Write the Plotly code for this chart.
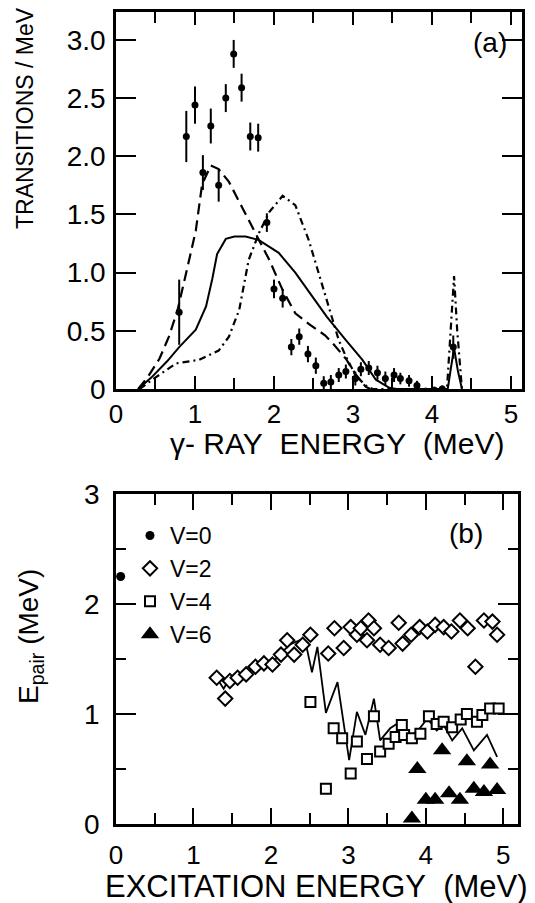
import plotly.graph_objects as go

# ---------------- Panel (a) data ----------------
gamma_e = [0.80, 0.89, 1.00, 1.10, 1.20, 1.30, 1.39, 1.49, 1.59, 1.70, 1.80, 1.91, 2.00, 2.11, 2.22, 2.32,
           2.43, 2.53, 2.63, 2.72, 2.82, 2.91, 3.03, 3.10, 3.20, 3.31, 3.41, 3.52, 3.60, 3.71, 3.81, 3.92,
           4.03, 4.13, 4.27]
transitions = [0.66, 2.17, 2.44, 1.86, 2.26, 1.75, 2.50, 2.88, 2.59, 2.17, 2.16, 1.43, 0.86, 0.78, 0.36, 0.45,
               0.30, 0.20, 0.05, 0.06, 0.12, 0.15, 0.09, 0.17, 0.18, 0.14, 0.09, 0.12, 0.09, 0.07, 0.03, -0.02,
               -0.01, 0.00, 0.36]
trans_err = [0.28, 0.22, 0.16, 0.15, 0.15, 0.14, 0.12, 0.12, 0.12, 0.12, 0.12, 0.08, 0.08, 0.08, 0.07, 0.07,
             0.07, 0.07, 0.06, 0.06, 0.06, 0.06, 0.06, 0.06, 0.06, 0.06, 0.06, 0.06, 0.05, 0.05, 0.04, 0.03,
             0.03, 0.03, 0.10]

solid_x = [0.28, 0.45, 0.65, 0.80, 1.01, 1.14, 1.22, 1.28, 1.39, 1.50, 1.64, 1.81, 2.06, 2.27, 2.48, 2.67,
           2.91, 3.12, 3.29, 3.46, 3.55, 4.20, 4.24, 4.28, 4.33, 4.38]
solid_y = [0.00, 0.10, 0.24, 0.36, 0.51, 0.71, 0.95, 1.16, 1.29, 1.31, 1.31, 1.28, 1.17, 1.00, 0.80, 0.62,
           0.42, 0.25, 0.08, 0.01, 0.00, 0.00, 0.18, 0.35, 0.15, 0.00]

dash_x = [0.28, 0.40, 0.55, 0.67, 0.78, 0.88, 0.95, 1.01, 1.09, 1.20, 1.30, 1.43, 1.60, 1.77, 1.94, 2.11,
          2.27, 2.44, 2.65, 2.76, 2.91, 3.03, 3.16, 3.22]
dash_y = [0.00, 0.10, 0.26, 0.45, 0.68, 0.96, 1.18, 1.36, 1.76, 1.92, 1.89, 1.78, 1.56, 1.34, 1.11, 0.85,
          0.65, 0.56, 0.46, 0.38, 0.26, 0.13, 0.02, 0.00]

dashdot_x = [0.30, 0.46, 0.76, 1.05, 1.30, 1.43, 1.56, 1.68, 1.81, 1.94, 2.11, 2.27, 2.44, 2.59, 2.70, 2.82,
             2.91, 3.03, 3.16, 3.25, 4.19, 4.24, 4.28, 4.32, 4.38]
dashdot_y = [0.00, 0.08, 0.22, 0.25, 0.33, 0.45, 0.68, 1.11, 1.34, 1.52, 1.66, 1.58, 1.28, 0.94, 0.71, 0.42,
             0.28, 0.12, 0.03, 0.00, 0.00, 0.50, 0.97, 0.50, 0.00]

top_yticks = [0, 0.5, 1.0, 1.5, 2.0, 2.5, 3.0]
top_yticklabels = ["0", "0.5", "1.0", "1.5", "2.0", "2.5", "3.0"]
xticks = [0, 1, 2, 3, 4, 5]
xticklabels = ["0", "1", "2", "3", "4", "5"]

# ---------------- Panel (b) data ----------------
v0_x = [0.06]
v0_y = [2.25]

v2_x = [1.30, 1.41, 1.47, 1.57, 1.68, 1.80, 1.91, 2.02, 2.13, 2.21, 2.30, 2.41, 2.51, 2.74, 2.82, 2.94,
        3.03, 3.11, 3.16, 3.24, 3.26, 3.33, 3.41, 3.52, 3.65, 3.70, 3.81, 3.92, 4.02, 4.12, 4.23, 4.33,
        4.44, 4.54, 4.64, 4.75, 4.86, 4.92]
v2_y = [1.33, 1.14, 1.30, 1.33, 1.36, 1.43, 1.46, 1.45, 1.54, 1.67, 1.54, 1.63, 1.72, 1.55, 1.78, 1.60,
        1.79, 1.72, 1.78, 1.67, 1.85, 1.78, 1.63, 1.60, 1.83, 1.64, 1.72, 1.79, 1.75, 1.81, 1.79, 1.75,
        1.85, 1.78, 1.43, 1.85, 1.84, 1.72]

v4_x = [2.51, 2.71, 2.81, 2.92, 3.03, 3.11, 3.24, 3.33, 3.41, 3.52, 3.61, 3.69, 3.72, 3.82, 3.93, 4.04,
        4.14, 4.23, 4.34, 4.45, 4.53, 4.66, 4.73, 4.83, 4.94]
v4_y = [1.11, 0.32, 0.87, 0.78, 0.46, 0.75, 0.59, 0.98, 0.66, 0.73, 0.79, 0.90, 0.81, 0.78, 0.82, 0.98,
        0.91, 0.93, 0.88, 0.95, 1.00, 0.93, 0.99, 1.05, 1.05]

v6_x = [3.82, 3.89, 4.00, 4.12, 4.21, 4.30, 4.44, 4.53, 4.62, 4.75, 4.83, 4.92]
v6_y = [0.05, 0.50, 0.22, 0.22, 0.67, 0.28, 0.22, 0.57, 0.32, 0.29, 0.54, 0.31]

avg_x = [1.28, 1.39, 1.46, 1.55, 1.65, 1.78, 1.90, 2.02, 2.13, 2.24, 2.37, 2.46, 2.53, 2.60, 2.71, 2.86,
         3.01, 3.11, 3.22, 3.33, 3.41, 3.54, 3.67, 3.76, 3.89, 4.02, 4.14, 4.23, 4.34, 4.47, 4.62, 4.79, 4.92]
avg_y = [1.35, 1.23, 1.32, 1.30, 1.36, 1.42, 1.46, 1.47, 1.55, 1.63, 1.67, 1.61, 1.38, 1.61, 1.01, 1.29,
         0.58, 1.02, 0.81, 1.14, 0.76, 0.87, 0.93, 0.79, 0.84, 0.96, 0.85, 0.90, 0.76, 0.87, 0.67, 0.81, 0.61]

bot_yticks = [0, 1, 2, 3]
bot_yticklabels = ["0", "1", "2", "3"]

FONT = "Liberation Sans, Arial, Helvetica, sans-serif"

fig = go.Figure()

# Panel (a)
fig.add_trace(go.Scatter(x=solid_x, y=solid_y, mode="lines", line=dict(color="black", width=2),
                         xaxis="x", yaxis="y", showlegend=False))
fig.add_trace(go.Scatter(x=dash_x, y=dash_y, mode="lines",
                         line=dict(color="black", width=2.2, dash="11px,6px"),
                         xaxis="x", yaxis="y", showlegend=False))
fig.add_trace(go.Scatter(x=dashdot_x, y=dashdot_y, mode="lines",
                         line=dict(color="black", width=2.2, dash="7px,4px,2px,4px"),
                         xaxis="x", yaxis="y", showlegend=False))
fig.add_trace(go.Scatter(x=gamma_e, y=transitions, mode="markers",
                         marker=dict(color="black", size=7, symbol="circle"),
                         error_y=dict(type="data", array=trans_err, color="black", thickness=2, width=0),
                         xaxis="x", yaxis="y", showlegend=False))

# Panel (b)
fig.add_trace(go.Scatter(x=avg_x, y=avg_y, mode="lines", line=dict(color="black", width=1.8),
                         xaxis="x2", yaxis="y2", showlegend=False))
fig.add_trace(go.Scatter(x=v0_x, y=v0_y, mode="markers", name="V=0",
                         marker=dict(color="black", size=9, symbol="circle"),
                         xaxis="x2", yaxis="y2"))
fig.add_trace(go.Scatter(x=v2_x, y=v2_y, mode="markers", name="V=2",
                         marker=dict(color="white", size=11, symbol="diamond",
                                     line=dict(color="black", width=2)),
                         xaxis="x2", yaxis="y2"))
fig.add_trace(go.Scatter(x=v4_x, y=v4_y, mode="markers", name="V=4",
                         marker=dict(color="white", size=10, symbol="square",
                                     line=dict(color="black", width=2)),
                         xaxis="x2", yaxis="y2"))
fig.add_trace(go.Scatter(x=v6_x, y=v6_y, mode="markers", name="V=6",
                         marker=dict(color="black", size=16, symbol="triangle-up"),
                         xaxis="x2", yaxis="y2"))

axis_common = dict(showline=True, linecolor="black", linewidth=2.5, mirror="allticks",
                   ticks="inside", tickcolor="black", tickwidth=2, showgrid=False, zeroline=False,
                   automargin=False)
tick_font = dict(family=FONT, size=28, color="black")

# the page body adds an 8px offset; margins below are set so that the plot
# frames land on the reference's screen positions
OFF = 8
W, H = 535, 903
L, T = 116 - OFF, 12 - OFF
R, B = W - (522 - OFF), H - (824 - OFF)
PW, PH = W - L - R, H - T - B


def px(xs):
    return (xs - OFF - L) / PW


def py(ys):
    return (H - B - (ys - OFF)) / PH


fig.update_layout(
    width=W, height=H, margin=dict(l=L, r=R, t=T, b=B, autoexpand=False),
    paper_bgcolor="white", plot_bgcolor="white",
    font=dict(family=FONT, color="black"),
    xaxis=dict(domain=[0, 1], range=[0, 5.14], anchor="y", tickmode="array", tickvals=xticks,
               ticktext=xticklabels, ticklen=13, ticklabelstandoff=0,
               tickfont=dict(family=FONT, size=26, color="black"),
               minor=dict(dtick=0.5, tick0=0, ticklen=11, tickwidth=2, ticks="inside", tickcolor="black"),
               **axis_common),
    yaxis=dict(domain=[py(389), 1], range=[0, 3.24], anchor="x", tickmode="array", tickvals=top_yticks,
               ticktext=top_yticklabels, ticklen=20, ticklabelstandoff=2, tickfont=tick_font,
               **axis_common),
    xaxis2=dict(domain=[0, px(518)], range=[0, 5.19], anchor="y2", tickmode="array", tickvals=xticks,
                ticktext=xticklabels, ticklen=16, ticklabelstandoff=6,
                tickfont=dict(family=FONT, size=26, color="black"),
                minor=dict(dtick=0.5, tick0=0, ticklen=11, tickwidth=2, ticks="inside", tickcolor="black"),
                **axis_common),
    yaxis2=dict(domain=[0, py(494)], range=[0, 3], anchor="x2", tickmode="array", tickvals=bot_yticks,
                ticktext=bot_yticklabels, ticklen=20, ticklabelstandoff=8, tickfont=tick_font,
                minor=dict(dtick=0.5, tick0=0, ticklen=10, tickwidth=2, ticks="inside", tickcolor="black"),
                **axis_common),
    legend=dict(x=px(130), y=py(514), xanchor="left", yanchor="top", bgcolor="rgba(0,0,0,0)",
                font=dict(family=FONT, size=23, color="black"), tracegroupgap=0, itemwidth=30),
    showlegend=True,
)

ann_font = dict(family=FONT, color="black")
annotations = [
    dict(text="TRANSITIONS / MeV", x=px(25), y=py(118), textangle=-90, font=dict(size=23, **ann_font)),
    dict(text="\u03b3- RAY\u00a0 ENERGY\u00a0 (MeV)", x=px(337), y=py(443), font=dict(size=30, **ann_font)),
    dict(text="E<sub>pair</sub> (MeV)", x=px(30), y=py(637), textangle=-90, font=dict(size=28, **ann_font)),
    dict(text="EXCITATION ENERGY\u00a0 (MeV)", x=px(316), y=py(886), font=dict(size=31, **ann_font)),
    dict(text="(a)", x=px(490), y=py(42), font=dict(size=28, **ann_font)),
    dict(text="(b)", x=px(466), y=py(533), font=dict(size=28, **ann_font)),
]
for a in annotations:
    a.update(xref="paper", yref="paper", showarrow=False, xanchor="center", yanchor="middle")
fig.update_layout(annotations=annotations)

fig.write_html("out.html")
